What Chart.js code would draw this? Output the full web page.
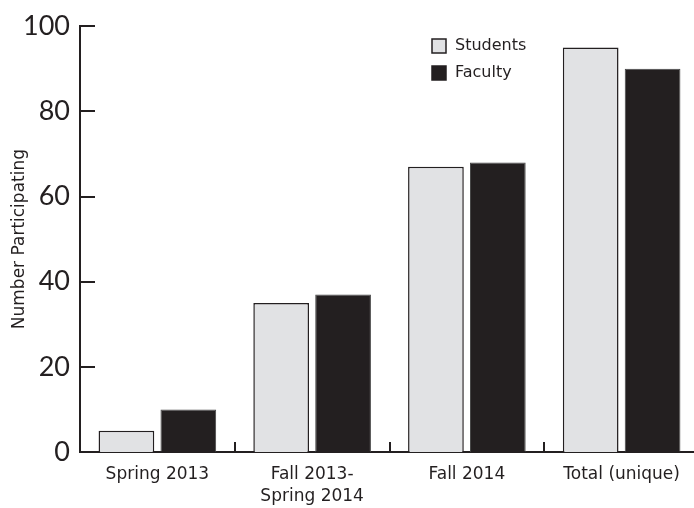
<!DOCTYPE html>
<html>
<head>
<meta charset="utf-8">
<script src="https://cdn.jsdelivr.net/npm/chart.js@4"></script>
<style>
  html, body { margin: 0; padding: 0; background: #fff; overflow: hidden; }
  #wrap { width: 700px; height: 508px; }
</style>
</head>
<body>
<div id="wrap"><canvas id="chart" width="700" height="508"></canvas></div>
<script>
const categories = ['Spring 2013', ['Fall 2013-', 'Spring 2014'], 'Fall 2014', 'Total (unique)'];
const students = [5, 35, 67, 95];
const faculty = [10, 37, 68, 90];
const yTicks = [0, 20, 40, 60, 80, 100];

const INK = '#231f20';
const NUM_FONT = 'Lato, "Open Sans", sans-serif';
const TXT_FONT = '"DejaVu Sans", sans-serif';

// inward tick marks on both axes + legend drawn inside the plot
const marksPlugin = {
    id: 'marks',
    afterDraw(chart) {
        const ctx = chart.ctx;
        const area = chart.chartArea;
        const x = chart.scales.x;
        const y = chart.scales.y;
        ctx.save();
        ctx.strokeStyle = INK;
        ctx.lineWidth = 2;
        ctx.beginPath();
        yTicks.forEach(v => {
            const py = Math.round(y.getPixelForValue(v));
            ctx.moveTo(area.left, py);
            ctx.lineTo(area.left + 15, py);
        });
        for (let i = 1; i < categories.length; i++) {
            const px = Math.round((x.getPixelForValue(i - 1) + x.getPixelForValue(i)) / 2);
            ctx.moveTo(px, area.bottom);
            ctx.lineTo(px, area.bottom - 10);
        }
        ctx.stroke();

        // legend
        ctx.font = '16px ' + TXT_FONT;
        ctx.textBaseline = 'middle';
        ctx.textAlign = 'left';
        chart.data.datasets.forEach((ds, i) => {
            const cy = 46 + i * 27;
            ctx.fillStyle = ds.backgroundColor;
            ctx.fillRect(432, cy - 7, 14, 14);
            ctx.lineWidth = 1.5;
            ctx.strokeStyle = INK;
            ctx.strokeRect(432, cy - 7, 14, 14);
            ctx.fillStyle = INK;
            ctx.fillText(ds.label, 455, cy);
        });
        ctx.restore();
    }
};

new Chart(document.getElementById('chart'), {
    type: 'bar',
    data: {
        labels: categories,
        datasets: [{
            label: 'Students',
            data: students,
            backgroundColor: '#e1e2e4',
            borderColor: INK,
            borderWidth: 1.5,
            categoryPercentage: 0.8,
            barPercentage: 0.9
        }, {
            label: 'Faculty',
            data: faculty,
            backgroundColor: INK,
            borderColor: '#444',
            borderWidth: 1,
            categoryPercentage: 0.8,
            barPercentage: 0.9
        }]
    },
    options: {
        responsive: false,
        animation: false,
        layout: { padding: { top: 22, right: 1, left: 0, bottom: 0 } },
        plugins: {
            legend: { display: false },
            tooltip: { enabled: false }
        },
        scales: {
            x: {
                grid: { display: false, drawTicks: false },
                border: { display: true, color: INK, width: 2 },
                ticks: {
                    color: INK,
                    padding: 12,
                    maxRotation: 0,
                    font: { family: TXT_FONT, size: 17, lineHeight: 1.28 }
                },
                afterFit: s => { s.height = 56; }
            },
            y: {
                min: 0,
                max: 100,
                grid: { display: false, drawTicks: false },
                border: { display: true, color: INK, width: 2 },
                ticks: {
                    stepSize: 20,
                    color: INK,
                    padding: 10,
                    font: { family: NUM_FONT, size: 27 }
                },
                title: {
                    display: true,
                    text: 'Number Participating',
                    color: INK,
                    font: { family: TXT_FONT, size: 17 },
                    padding: { top: 9, bottom: 0 }
                },
                afterFit: s => { s.width = 80; }
            }
        }
    },
    plugins: [marksPlugin]
});
</script>
</body>
</html>
